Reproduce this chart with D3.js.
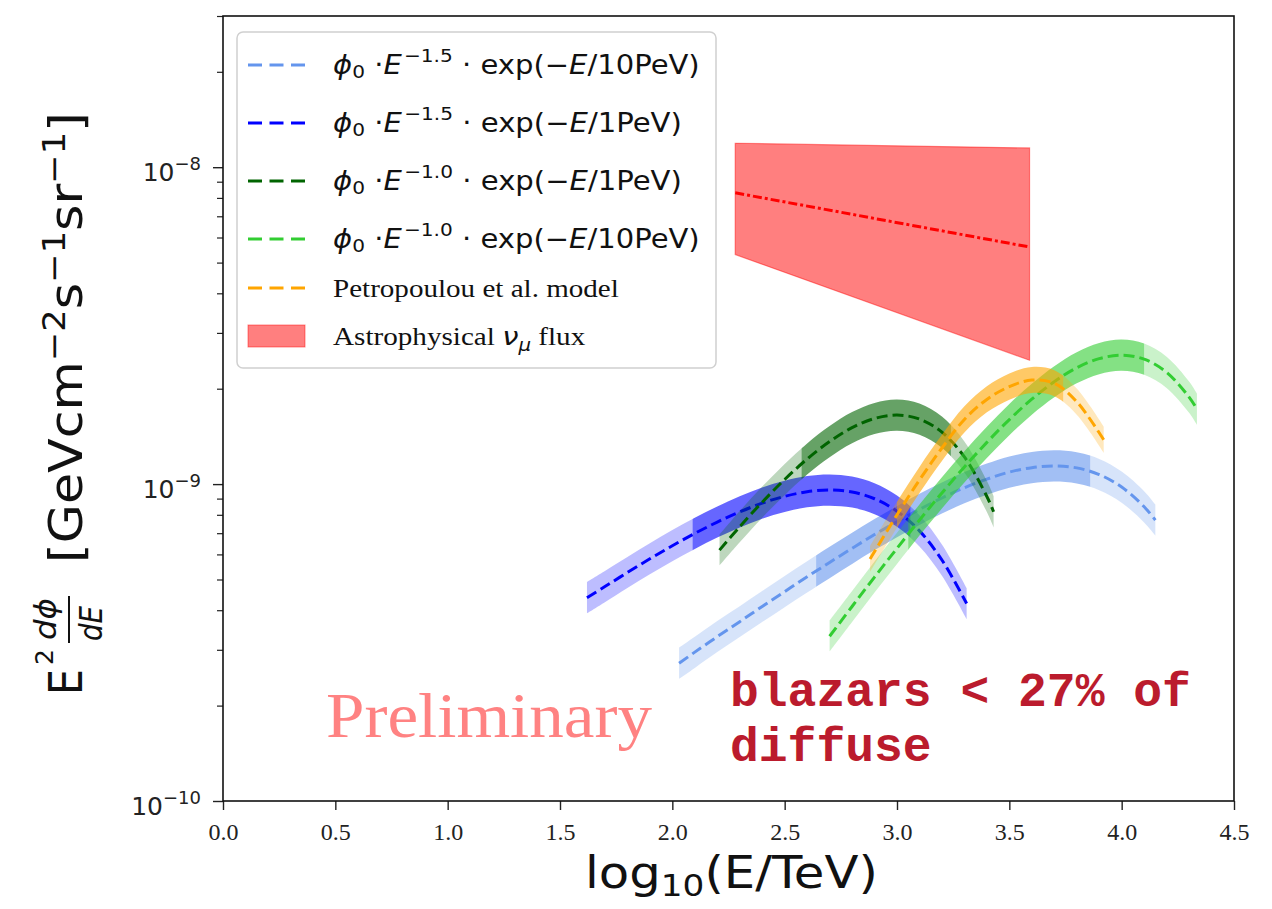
<!DOCTYPE html>
<html>
<head>
<meta charset="utf-8">
<script src="https://cdn.jsdelivr.net/npm/d3@7"></script>
<style>
  body { margin: 0; background: #fff; }
  svg { display: block; }
</style>
</head>
<body>
<div id="chart"></div>
<script>
// flux values below are in units of 1e-10 GeV cm^-2 s^-1 sr^-1
const unit = 1e-10;

const xTicks = [0, 0.5, 1, 1.5, 2, 2.5, 3, 3.5, 4, 4.5];
const yMajor = [1e-10, 1e-9, 1e-8];
const yMajorExp = ["\u221210", "\u22129", "\u22128"];

// phi0 E^-1.5 exp(-E/10PeV)
const skyX = [2.03, 2.1, 2.2, 2.3, 2.4, 2.5, 2.6, 2.7, 2.8, 2.9, 3.0, 3.1, 3.2, 3.3, 3.4, 3.5, 3.6, 3.7, 3.8, 3.9, 4.0, 4.1, 4.15];
const skyMid = [2.72, 2.95, 3.30, 3.68, 4.11, 4.58, 5.10, 5.66, 6.27, 6.93, 7.61, 8.32, 9.04, 9.74, 10.37, 10.91, 11.27, 11.41, 11.25, 10.72, 9.79, 8.48, 7.70];
const skyHi = [3.05, 3.30, 3.70, 4.12, 4.60, 5.13, 5.71, 6.34, 7.02, 7.76, 8.52, 9.32, 10.12, 10.91, 11.61, 12.22, 12.62, 12.78, 12.60, 12.01, 10.96, 9.50, 8.62];
const skyLo = [2.43, 2.63, 2.95, 3.29, 3.67, 4.09, 4.55, 5.05, 5.60, 6.19, 6.80, 7.43, 8.07, 8.70, 9.26, 9.74, 10.06, 10.19, 10.05, 9.57, 8.74, 7.57, 6.88];
const skyCore = [2.64, 3.86];

// phi0 E^-1.5 exp(-E/1PeV)
const blueX = [1.62, 1.7, 1.8, 1.9, 2.0, 2.1, 2.2, 2.3, 2.4, 2.5, 2.6, 2.7, 2.8, 2.9, 3.0, 3.1, 3.2, 3.31];
const blueMid = [4.38, 4.75, 5.26, 5.81, 6.39, 6.99, 7.59, 8.17, 8.71, 9.15, 9.46, 9.58, 9.44, 8.99, 8.21, 7.12, 5.76, 4.20];
const blueHi = [4.91, 5.32, 5.89, 6.51, 7.16, 7.83, 8.50, 9.15, 9.76, 10.25, 10.60, 10.73, 10.57, 10.07, 9.20, 7.97, 6.45, 4.70];
const blueLo = [3.91, 4.24, 4.70, 5.19, 5.71, 6.24, 6.78, 7.30, 7.78, 8.17, 8.45, 8.55, 8.43, 8.03, 7.33, 6.36, 5.14, 3.75];
const blueCore = [2.09, 3.06];

// phi0 E^-1.0 exp(-E/1PeV)
const forestX = [2.21, 2.3, 2.4, 2.5, 2.6, 2.7, 2.8, 2.9, 3.0, 3.1, 3.2, 3.3, 3.4, 3.43];
const forestMid = [6.19, 7.34, 8.77, 10.34, 12.00, 13.62, 15.07, 16.11, 16.51, 16.04, 14.58, 12.18, 9.14, 8.18];
const forestHi = [6.93, 8.22, 9.82, 11.58, 13.44, 15.25, 16.88, 18.04, 18.49, 17.96, 16.33, 13.64, 10.24, 9.16];
const forestLo = [5.53, 6.55, 7.83, 9.23, 10.72, 12.16, 13.46, 14.39, 14.74, 14.32, 13.02, 10.88, 8.16, 7.30];
const forestCore = [2.575, 3.24];

// phi0 E^-1.0 exp(-E/10PeV)
const limeX = [2.7, 2.8, 2.9, 3.0, 3.1, 3.2, 3.3, 3.4, 3.5, 3.6, 3.7, 3.8, 3.9, 4.0, 4.1, 4.2, 4.3, 4.335];
const limeMid = [3.31, 4.11, 5.09, 6.27, 7.70, 9.38, 11.33, 13.54, 15.98, 18.53, 21.04, 23.28, 24.89, 25.51, 24.79, 22.53, 18.81, 17.24];
const limeHi = [3.71, 4.60, 5.70, 7.02, 8.62, 10.51, 12.69, 15.16, 17.90, 20.75, 23.56, 26.07, 27.88, 28.57, 27.76, 25.23, 21.07, 19.31];
const limeLo = [2.96, 3.67, 4.55, 5.60, 6.88, 8.38, 10.12, 12.09, 14.27, 16.55, 18.79, 20.79, 22.23, 22.78, 22.14, 20.12, 16.80, 15.40];
const limeCore = [3.05, 4.10];

// Petropoulou et al. model
const petroX = [2.88, 3.0, 3.1, 3.2, 3.3, 3.4, 3.5, 3.6, 3.7, 3.8, 3.92];
const petroMid = [5.8, 8.0, 10.3, 13.0, 16.0, 18.5, 20.3, 21.3, 20.8, 18.2, 13.8];
const petroHi = [6.38, 8.80, 11.33, 14.30, 17.60, 20.35, 22.33, 23.43, 22.88, 20.02, 15.18];
const petroLo = [5.28, 7.28, 9.37, 11.83, 14.56, 16.84, 18.47, 19.38, 18.93, 16.56, 12.56];
const petroCore = [3.0, 3.74];

// astrophysical numu flux
const astroX = [2.28, 3.59];
const astroMid = [83, 56];
const astroHi = [119, 115];
const astroLo = [53, 24.6];

const legendExp = ["\u22121.5", "\u22121.5", "\u22121.0", "\u22121.0"];
const legendCut = ["10PeV", "1PeV", "1PeV", "10PeV"];

const series = [
  { color: "cornflowerblue", x: skyX, mid: skyMid, hi: skyHi, lo: skyLo, core: skyCore },
  { color: "blue", x: blueX, mid: blueMid, hi: blueHi, lo: blueLo, core: blueCore },
  { color: "darkgreen", x: forestX, mid: forestMid, hi: forestHi, lo: forestLo, core: forestCore },
  { color: "limegreen", x: limeX, mid: limeMid, hi: limeHi, lo: limeLo, core: limeCore },
  { color: "orange", x: petroX, mid: petroMid, hi: petroHi, lo: petroLo, core: petroCore }
];

const width = 1272, height = 909;
const margin = { top: 16, right: 38, bottom: 108, left: 223 };
const sans = "'DejaVu Sans', sans-serif";
const serif = "'Liberation Serif', 'Times New Roman', serif";

const svg = d3.select("#chart").append("svg")
  .attr("width", width)
  .attr("height", height);

const x = d3.scaleLinear().domain([0, 4.5]).range([margin.left, width - margin.right]);
const y = d3.scaleLog().domain([1e-10, 3e-8]).range([height - margin.bottom, margin.top]);

const defs = svg.append("defs");
defs.append("clipPath").attr("id", "plot")
  .append("rect")
  .attr("x", x(0)).attr("y", y(3e-8))
  .attr("width", x(4.5) - x(0)).attr("height", y(1e-10) - y(3e-8));

const plot = svg.append("g").attr("clip-path", "url(#plot)");

const rows = s => s.x.map((v, i) => ({ x: v, mid: s.mid[i] * unit, hi: s.hi[i] * unit, lo: s.lo[i] * unit }));

const band = d3.area()
  .x(d => x(d.x))
  .y0(d => y(d.lo))
  .y1(d => y(d.hi))
  .curve(d3.curveCatmullRom);

const line = d3.line()
  .x(d => x(d.x))
  .y(d => y(d.mid))
  .curve(d3.curveCatmullRom);

// astrophysical band first, then the models
const astro = astroX.map((v, i) => ({ x: v, mid: astroMid[i] * unit, hi: astroHi[i] * unit, lo: astroLo[i] * unit }));
plot.append("path")
  .datum(astro)
  .attr("d", d3.area().x(d => x(d.x)).y0(d => y(d.lo)).y1(d => y(d.hi)))
  .attr("fill", "rgba(255,0,0,0.5)")
  .attr("stroke", "rgba(255,0,0,0.45)")
  .attr("stroke-width", 1.2);
plot.append("path")
  .datum(astro)
  .attr("d", d3.line().x(d => x(d.x)).y(d => y(d.mid)))
  .attr("fill", "none")
  .attr("stroke", "red")
  .attr("stroke-width", 3)
  .attr("stroke-dasharray", "9,3,3,3");

series.forEach((s, i) => {
  const data = rows(s);
  const inner = defs.append("clipPath").attr("id", "core" + i);
  inner.append("rect")
    .attr("x", x(s.core[0])).attr("y", 0)
    .attr("width", x(s.core[1]) - x(s.core[0])).attr("height", height);
  const outer = defs.append("clipPath").attr("id", "tail" + i);
  outer.append("rect")
    .attr("x", 0).attr("y", 0)
    .attr("width", x(s.core[0])).attr("height", height);
  outer.append("rect")
    .attr("x", x(s.core[1])).attr("y", 0)
    .attr("width", width - x(s.core[1])).attr("height", height);

  plot.append("path")
    .datum(data)
    .attr("clip-path", `url(#tail${i})`)
    .attr("d", band)
    .attr("fill", s.color)
    .attr("fill-opacity", 0.26);
  plot.append("path")
    .datum(data)
    .attr("clip-path", `url(#core${i})`)
    .attr("d", band)
    .attr("fill", s.color)
    .attr("fill-opacity", 0.6);
  plot.append("path")
    .datum(data)
    .attr("d", line)
    .attr("fill", "none")
    .attr("stroke", s.color)
    .attr("stroke-width", 3)
    .attr("stroke-dasharray", "11,5");
});

// axes
const xAxis = svg.append("g")
  .attr("transform", `translate(0,${y(1e-10)})`)
  .call(d3.axisBottom(x).tickValues(xTicks).tickSize(9).tickPadding(6).tickFormat(d3.format(".1f")));
xAxis.select(".domain").remove();
xAxis.selectAll("line").attr("stroke", "#222").attr("stroke-width", 1.4);
xAxis.selectAll("text")
  .attr("dy", null).attr("y", 39)
  .style("font-family", serif).style("font-size", "24px").attr("fill", "#222");

const minor = y.ticks().filter(v => !yMajor.includes(v));
const yMinorAxis = svg.append("g")
  .attr("transform", `translate(${x(0)},0)`)
  .call(d3.axisLeft(y).tickValues(minor).tickSize(6).tickFormat(""));
yMinorAxis.select(".domain").remove();
yMinorAxis.selectAll("line").attr("stroke", "#222").attr("stroke-width", 1.2);

const yAxis = svg.append("g")
  .attr("transform", `translate(${x(0)},0)`)
  .call(d3.axisLeft(y).tickValues(yMajor).tickSize(10).tickFormat(""));
yAxis.select(".domain").remove();
yAxis.selectAll("line").attr("stroke", "#222").attr("stroke-width", 1.4);

yMajor.forEach((v, i) => {
  const t = svg.append("text")
    .attr("x", x(0) - 22).attr("y", y(v) + 14)
    .attr("text-anchor", "end")
    .style("font-family", sans).style("font-size", "25px").attr("fill", "#222");
  t.append("tspan").text("10");
  t.append("tspan").attr("dy", -11).style("font-size", "18px").text(yMajorExp[i]);
});

// frame
svg.append("rect")
  .attr("x", x(0)).attr("y", y(3e-8))
  .attr("width", x(4.5) - x(0)).attr("height", y(1e-10) - y(3e-8))
  .attr("fill", "none").attr("stroke", "#111").attr("stroke-width", 1.6);

// stretch a text group to a measured width
function fitTo(g, w, tx, ty) {
  const bb = g.node().getBBox();
  g.attr("transform", `translate(${tx - bb.x * w / bb.width},${ty}) scale(${w / bb.width},1)`);
}

// x label
const xl = svg.append("g");
const xlt = xl.append("text").style("font-family", sans).style("font-size", "45px").attr("fill", "#111");
xlt.append("tspan").text("log");
xlt.append("tspan").attr("dy", 8).style("font-size", "31px").text("10");
xlt.append("tspan").attr("dy", -8).text("(E/TeV)");
fitTo(xl, 293, 585, 888);

// y label (rotated)
const yl = svg.append("g").attr("transform", "translate(82,695) rotate(-90)")
  .style("font-family", sans).attr("fill", "#111");
yl.append("text").attr("x", 0).attr("y", 0).style("font-size", "46px")
  .attr("textLength", 26).attr("lengthAdjust", "spacingAndGlyphs").text("E");
yl.append("text").attr("x", 30).attr("y", -29).style("font-size", "25px").text("2");
yl.append("text").attr("x", 55).attr("y", -26).style("font-size", "30px").style("font-style", "italic")
  .attr("textLength", 42).attr("lengthAdjust", "spacingAndGlyphs").text("d\u03d5");
yl.append("line").attr("x1", 52).attr("x2", 99).attr("y1", -13).attr("y2", -13)
  .attr("stroke", "#111").attr("stroke-width", 2);
yl.append("text").attr("x", 54).attr("y", 20).style("font-size", "32px").style("font-style", "italic")
  .attr("textLength", 35).attr("lengthAdjust", "spacingAndGlyphs").text("dE");
const unitG = yl.append("g");
const ut = unitG.append("text").style("font-size", "46px");
ut.append("tspan").text("[GeVcm");
ut.append("tspan").attr("dy", -17).style("font-size", "32px").text("\u22122");
ut.append("tspan").attr("dy", 17).text("s");
ut.append("tspan").attr("dy", -17).style("font-size", "32px").text("\u22121");
ut.append("tspan").attr("dy", 17).text("sr");
ut.append("tspan").attr("dy", -17).style("font-size", "32px").text("\u22121");
ut.append("tspan").attr("dy", 17).text("]");
fitTo(unitG, 451, 132, 0);

// annotations
const pre = svg.append("g");
pre.append("text").style("font-family", serif).style("font-size", "64px").attr("fill", "#ff8282").text("Preliminary");
fitTo(pre, 326, 326, 737);

const note = svg.append("g")
  .style("font-family", "'Liberation Mono', 'Courier New', monospace")
  .style("font-size", "48px").style("font-weight", "bold").attr("fill", "#bb1b2d");
note.append("text").attr("x", 730).attr("y", 706).text("blazars < 27% of");
note.append("text").attr("x", 730).attr("y", 761).text("diffuse");

// legend
const legend = svg.append("g");
legend.append("rect")
  .attr("x", 237).attr("y", 32).attr("width", 479).attr("height", 336)
  .attr("rx", 6).attr("fill", "rgba(255,255,255,0.85)")
  .attr("stroke", "#d0d0d0").attr("stroke-width", 1.5);

const rowY = [65, 123, 181, 239, 288, 336];
const mathW = [367, 349, 349, 367];

series.forEach((s, i) => {
  legend.append("line")
    .attr("x1", 248).attr("x2", 305).attr("y1", rowY[i]).attr("y2", rowY[i])
    .attr("stroke", s.color).attr("stroke-width", 2.8)
    .attr("stroke-dasharray", "14,7.5");
});

legendExp.forEach((e, i) => {
  const g = legend.append("g");
  const t = g.append("text").style("font-family", sans).style("font-size", "26px").attr("fill", "#111");
  t.append("tspan").style("font-style", "italic").text("\u03d5");
  t.append("tspan").attr("dy", 4).style("font-size", "18px").text("0");
  t.append("tspan").attr("dy", -4).text(" \u00b7");
  t.append("tspan").style("font-style", "italic").text("E");
  t.append("tspan").attr("dy", -12).attr("dx", 2).style("font-size", "18px").text(e);
  t.append("tspan").attr("dy", 12).text(" \u00b7 exp(\u2212");
  t.append("tspan").style("font-style", "italic").text("E");
  t.append("tspan").text("/" + legendCut[i] + ")");
  fitTo(g, mathW[i], 333, rowY[i] + 9);
});

const pg = legend.append("g");
pg.append("text").style("font-family", serif).style("font-size", "25px").attr("fill", "#111")
  .text("Petropoulou et al. model");
fitTo(pg, 286, 333, rowY[4] + 9);

legend.append("rect")
  .attr("x", 248).attr("y", rowY[5] - 11).attr("width", 57).attr("height", 22)
  .attr("fill", "rgba(255,0,0,0.5)").attr("stroke", "rgba(255,0,0,0.45)");
const ag = legend.append("g");
const at = ag.append("text").style("font-family", serif).style("font-size", "25px").attr("fill", "#111");
at.append("tspan").text("Astrophysical ");
at.append("tspan").style("font-family", sans).style("font-style", "italic").text("\u03bd");
at.append("tspan").attr("dy", 6).style("font-family", sans).style("font-style", "italic").style("font-size", "17px").text("\u03bc");
at.append("tspan").attr("dy", -6).text(" flux");
fitTo(ag, 253, 333, rowY[5] + 9);
</script>
</body>
</html>
